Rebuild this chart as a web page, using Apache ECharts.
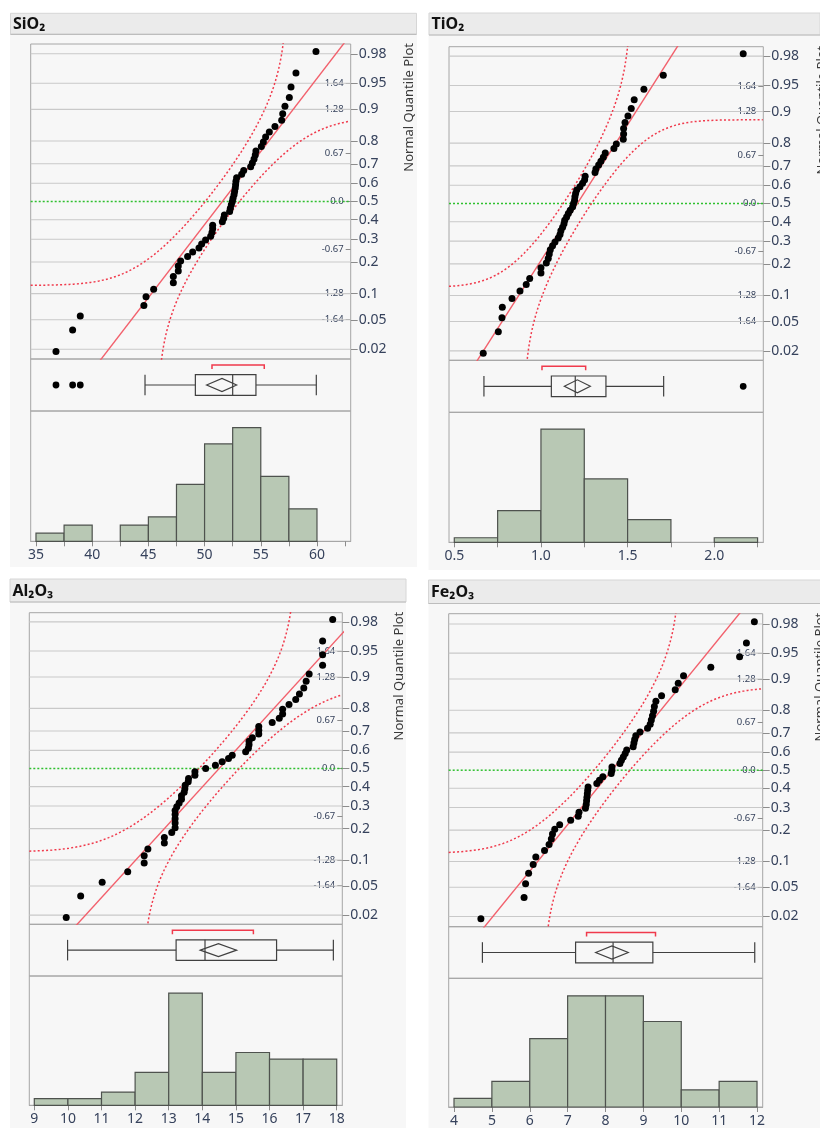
<!DOCTYPE html>
<html><head><meta charset="utf-8">
<script src="https://cdn.jsdelivr.net/npm/echarts@6/dist/echarts.min.js"></script>
<style>html,body{margin:0;padding:0;background:#fff;}#c{width:820px;height:1128px;}</style>
</head><body><div id="c"></div>
<script>
// ---------------- data ----------------
const probTicks = [0.02,0.05,0.1,0.2,0.3,0.4,0.5,0.6,0.7,0.8,0.9,0.95,0.98];
const probTickLabels = ['0.02','0.05','0.1','0.2','0.3','0.4','0.5','0.6','0.7','0.8','0.9','0.95','0.98'];
const zTicks = [-1.64,-1.28,-0.67,0,0.67,1.28,1.64];
const zTickLabels = ['-1.64','-1.28','-0.67','0.0','0.67','1.28','1.64'];
const bandD = 0.1217;

const sio2Values = [36.78,38.26,38.94,44.60,44.79,45.47,47.22,47.22,47.66,47.66,47.87,48.49,48.94,49.50,49.74,50.09,50.54,50.66,50.72,50.72,51.58,51.70,51.76,52.23,52.29,52.38,52.47,52.53,52.62,52.67,52.73,52.76,52.79,52.85,53.30,53.48,54.10,54.25,54.40,54.51,54.57,55.05,55.23,55.43,55.76,56.26,56.86,56.95,57.15,57.54,57.69,58.13,59.91];
const sio2Hist = {start: 35, width: 2.5, counts: [1,2,0,2,3,7,12,14,8,4]};
const sio2Box = [44.70, 49.18, 52.50, 54.57, 59.94];
const sio2Outliers = [36.78, 38.26, 38.94];
const sio2MeanDiamond = [50.18, 51.55, 52.85];
const sio2ShortestHalf = [50.66, 55.31];
const sio2Fit = [51.58, 4.92];
const sio2AxisLabels = [35,40,45,50,55,60];
const sio2AxisTicks = [35,37.5,40,42.5,45,47.5,50,52.5,55,57.5,60,62.5];

const tio2Values = [0.667,0.754,0.775,0.777,0.833,0.879,0.915,0.935,1.000,1.000,1.031,1.042,1.048,1.054,1.067,1.081,1.100,1.110,1.115,1.125,1.133,1.137,1.148,1.158,1.169,1.183,1.188,1.194,1.196,1.200,1.206,1.225,1.240,1.252,1.255,1.312,1.317,1.333,1.346,1.360,1.371,1.421,1.435,1.475,1.477,1.477,1.485,1.502,1.521,1.538,1.594,1.706,2.167];
const tio2Hist = {start: 0.5, width: 0.25, counts: [1,7,25,14,5,0,1]};
const tio2Box = [0.671, 1.060, 1.198, 1.375, 1.708];
const tio2Outliers = [2.167];
const tio2MeanDiamond = [1.135, 1.21, 1.285];
const tio2ShortestHalf = [1.006, 1.258];
const tio2Fit = [1.21, 0.264];
const tio2AxisLabels = [0.5,1.0,1.5,2.0];
const tio2AxisTicks = [0.5,0.75,1.0,1.25,1.5,1.75,2.0,2.25];

const al2o3Values = [9.95,10.38,11.02,11.78,12.27,12.27,12.38,12.87,12.87,13.09,13.19,13.19,13.19,13.19,13.19,13.24,13.31,13.38,13.38,13.46,13.48,13.49,13.58,13.59,13.78,13.78,14.10,14.39,14.59,14.78,14.89,15.29,15.37,15.39,15.39,15.49,15.68,15.68,15.68,16.08,16.29,16.39,16.39,16.58,16.78,16.89,17.02,17.09,17.18,17.58,17.58,17.58,17.88];
const al2o3Hist = {start: 9, width: 1, counts: [1,1,2,5,17,5,8,7,7]};
const al2o3Box = [9.99, 13.22, 14.08, 16.21, 17.90];
const al2o3Outliers = [];
const al2o3MeanDiamond = [13.94, 14.48, 15.02];
const al2o3ShortestHalf = [13.11, 15.52];
const al2o3Fit = [14.50, 1.936];
const al2o3AxisLabels = [9,10,11,12,13,14,15,16,17,18];
const al2o3AxisTicks = [9,10,11,12,13,14,15,16,17,18];

const fe2o3Values = [4.71,5.85,5.89,5.97,6.09,6.16,6.39,6.51,6.57,6.60,6.66,6.79,7.08,7.28,7.30,7.47,7.49,7.50,7.51,7.52,7.53,7.54,7.77,7.84,7.93,8.15,8.17,8.17,8.38,8.42,8.47,8.52,8.56,8.73,8.75,8.77,8.80,8.91,9.11,9.18,9.21,9.24,9.27,9.29,9.33,9.48,9.84,9.92,10.06,10.78,11.54,11.72,11.93];
const fe2o3Hist = {start: 4, width: 1, counts: [1,3,8,13,13,10,2,3]};
const fe2o3Box = [4.75, 7.21, 8.20, 9.25, 11.94];
const fe2o3Outliers = [];
const fe2o3MeanDiamond = [7.74, 8.17, 8.60];
const fe2o3ShortestHalf = [7.50, 9.32];
const fe2o3Fit = [8.17, 1.53];
const fe2o3AxisLabels = [4,5,6,7,8,9,10,11,12];
const fe2o3AxisTicks = [4,5,6,7,8,9,10,11,12];

// ---------------- layout ----------------
const panels = [
  {title:'SiO\u2082', values:sio2Values, hist:sio2Hist, box:sio2Box, out:sio2Outliers, dia:sio2MeanDiamond, half:sio2ShortestHalf, fit:sio2Fit,
   labels:sio2AxisLabels, ticks:sio2AxisTicks, fmt:v=>String(v),
   left:30.7, width:320, qTop:44, boxTop:359, histTop:411, histBottom:541.3, xMin:34.53, xMax:63.0, zMax:2.19, histMax:16.05,
   bg:[10,13,407,554], head:[10.5,13.3,406,21], nqpX:409.5},
  {title:'TiO\u2082', values:tio2Values, hist:tio2Hist, box:tio2Box, out:tio2Outliers, dia:tio2MeanDiamond, half:tio2ShortestHalf, fit:tio2Fit,
   labels:tio2AxisLabels, ticks:tio2AxisTicks, fmt:v=>v.toFixed(1),
   left:449, width:314.3, qTop:46.7, boxTop:360.3, histTop:412.3, histBottom:542.3, xMin:0.4694, xMax:2.283, zMax:2.185, histMax:28.7,
   bg:[428.5,13,392,557], head:[429,13,391,22], nqpX:822},
  {title:'Al\u2082O\u2083', values:al2o3Values, hist:al2o3Hist, box:al2o3Box, out:al2o3Outliers, dia:al2o3MeanDiamond, half:al2o3ShortestHalf, fit:al2o3Fit,
   labels:al2o3AxisLabels, ticks:al2o3AxisTicks, fmt:v=>String(v),
   left:29.3, width:313, qTop:612.7, boxTop:924.3, histTop:976, histBottom:1105.3, xMin:8.851, xMax:18.166, zMax:2.182, histMax:19.6,
   bg:[10,579,396,549], head:[10,579,396,23], nqpX:399},
  {title:'Fe\u2082O\u2083', values:fe2o3Values, hist:fe2o3Hist, box:fe2o3Box, out:fe2o3Outliers, dia:fe2o3MeanDiamond, half:fe2o3ShortestHalf, fit:fe2o3Fit,
   labels:fe2o3AxisLabels, ticks:fe2o3AxisTicks, fmt:v=>String(v),
   left:448.7, width:314, qTop:613.7, boxTop:926.7, histTop:978.3, histBottom:1108.3, xMin:3.86, xMax:12.15, zMax:2.198, histMax:15.05,
   bg:[428.5,580,392,548], head:[428.5,580,392,23.5], nqpX:820}
];

// ---------------- helpers ----------------
function normInv(p){
  const a=[-3.969683028665376e+01,2.209460984245205e+02,-2.759285104469687e+02,1.383577518672690e+02,-3.066479806614716e+01,2.506628277459239e+00];
  const b=[-5.447609879822406e+01,1.615858368580409e+02,-1.556989798598866e+02,6.680131188771972e+01,-1.328068155288572e+01];
  const c=[-7.784894002430293e-03,-3.223964580411365e-01,-2.400758277161838e+00,-2.549732539343734e+00,4.374664141464968e+00,2.938163982698783e+00];
  const d=[7.784695709041462e-03,3.224671290700398e-01,2.445134137142996e+00,3.754408661907416e+00];
  if(p<=0) return -Infinity; if(p>=1) return Infinity;
  const pl=0.02425; let q,r;
  if(p<pl){q=Math.sqrt(-2*Math.log(p));return (((((c[0]*q+c[1])*q+c[2])*q+c[3])*q+c[4])*q+c[5])/((((d[0]*q+d[1])*q+d[2])*q+d[3])*q+1);}
  if(p<=1-pl){q=p-0.5;r=q*q;return (((((a[0]*r+a[1])*r+a[2])*r+a[3])*r+a[4])*r+a[5])*q/(((((b[0]*r+b[1])*r+b[2])*r+b[3])*r+b[4])*r+1);}
  q=Math.sqrt(-2*Math.log(1-p));return -(((((c[0]*q+c[1])*q+c[2])*q+c[3])*q+c[4])*q+c[5])/((((d[0]*q+d[1])*q+d[2])*q+d[3])*q+1);
}
function normCdf(x){
  const t=1/(1+0.3275911*Math.abs(x)/Math.SQRT2);
  const y=1-(((((1.061405429*t-1.453152027)*t)+1.421413741)*t-0.284496736)*t+0.254829592)*t*Math.exp(-x*x/2);
  return x>=0?0.5*(1+y):0.5*(1-y);
}
function nearestLabel(v, vals, labels){
  let bi=0,bd=Infinity; vals.forEach((x,i)=>{const dd=Math.abs(x-v); if(dd<bd){bd=dd;bi=i;}}); return labels[bi];
}

const FONT = "'Noto Sans','DejaVu Sans',sans-serif";
const LABEL = '#36425c';
const FRAME = '#a6a6a6';
const probZ = probTicks.map(normInv);

const grids=[], xAxes=[], yAxes=[], series=[], graphics=[];

panels.forEach((P)=>{
  const gq = grids.length;
  const base = {left:P.left, width:P.width, show:true, borderColor:FRAME, borderWidth:1, backgroundColor:'transparent', containLabel:false};
  grids.push(Object.assign({top:P.qTop, height:P.boxTop-P.qTop}, base));
  grids.push(Object.assign({top:P.boxTop, height:P.histTop-P.boxTop}, base));
  grids.push(Object.assign({top:P.histTop, height:P.histBottom-P.histTop}, base));

  const xq = xAxes.length;
  xAxes.push({gridIndex:gq, type:'value', min:P.xMin, max:P.xMax, show:false});
  xAxes.push({gridIndex:gq+1, type:'value', min:P.xMin, max:P.xMax, show:false});
  xAxes.push({gridIndex:gq+2, type:'value', min:P.xMin, max:P.xMax, position:'bottom',
    axisLine:{show:true, onZero:false, lineStyle:{color:FRAME, width:1}},
    axisTick:{show:true, customValues:P.ticks, length:5, lineStyle:{color:'#8c8c8c'}},
    axisLabel:{show:true, customValues:P.labels, formatter:v=>P.fmt(v), color:LABEL, fontSize:14, fontFamily:FONT, margin:7},
    splitLine:{show:false}});

  const yq = yAxes.length;
  yAxes.push({gridIndex:gq, type:'value', position:'right', min:-P.zMax, max:P.zMax,
    axisLine:{show:false},
    axisTick:{show:true, inside:false, length:7, customValues:probZ, lineStyle:{color:'#8c8c8c'}},
    axisLabel:{show:true, customValues:probZ, formatter:v=>nearestLabel(v, probZ, probTickLabels), color:LABEL, fontSize:14, fontFamily:FONT, margin:8},
    splitLine:{show:false}});
  yAxes.push({gridIndex:gq, type:'value', position:'right', min:-P.zMax, max:P.zMax,
    axisLine:{show:false},
    axisTick:{show:true, inside:true, length:5, customValues:zTicks, lineStyle:{color:'#8c8c8c'}},
    axisLabel:{show:true, inside:true, customValues:zTicks, formatter:v=>nearestLabel(v, zTicks, zTickLabels), color:LABEL, fontSize:9.5, fontFamily:FONT, margin:7},
    splitLine:{show:false}});
  const yb = yAxes.length;
  yAxes.push({gridIndex:gq+1, type:'value', min:0, max:1, show:false});
  const yh = yAxes.length;
  yAxes.push({gridIndex:gq+2, type:'value', min:0, max:P.histMax, show:false});

  // gridlines + green reference line at 0.5
  series.push({type:'custom', xAxisIndex:xq, yAxisIndex:yq, silent:true, z:1,
    data: probZ.map(z=>[P.xMin, z]),
    renderItem:(params, api)=>{
      const z = api.value(1);
      const a = api.coord([P.xMin, z]), b = api.coord([P.xMax, z]);
      const green = Math.abs(z) < 1e-9;
      return {type:'line', shape:{x1:a[0], y1:a[1], x2:b[0], y2:b[1]},
        style: green ? {stroke:'#2fc02f', lineWidth:1.5, lineDash:[2,2]} : {stroke:'#c9c9c9', lineWidth:1.1}};
    }});

  // confidence bands (Lilliefors), from fitted mean / sd
  const [mu, sd] = P.fit;
  const N = 600, up = [], lo = [];
  for(let i=0;i<=N;i++){
    const x = P.xMin + (P.xMax-P.xMin)*i/N;
    const F = normCdf((x-mu)/sd);
    up.push([x, F+bandD>=1 ? 6 : normInv(F+bandD)]);
    lo.push([x, F-bandD<=0 ? -6 : normInv(F-bandD)]);
  }
  const bandStyle = {color:'#f03a4c', width:1.5, type:[2,2.2]};
  series.push({type:'line', xAxisIndex:xq, yAxisIndex:yq, data:up, showSymbol:false, symbol:'none', silent:true, clip:true, z:3, lineStyle:bandStyle});
  series.push({type:'line', xAxisIndex:xq, yAxisIndex:yq, data:lo, showSymbol:false, symbol:'none', silent:true, clip:true, z:3, lineStyle:bandStyle});
  // fitted normal line
  series.push({type:'line', xAxisIndex:xq, yAxisIndex:yq, data:[[mu-sd*3, -3],[mu+sd*3, 3]], showSymbol:false, symbol:'none', silent:true, clip:true, z:3,
    lineStyle:{color:'#f2606c', width:1.4}});
  // quantile points
  const n = P.values.length;
  series.push({type:'scatter', xAxisIndex:xq, yAxisIndex:yq, symbol:'circle', symbolSize:7, silent:true, z:5,
    itemStyle:{color:'#000000', opacity:1},
    data: P.values.map((v,i)=>[v, normInv((i+1)/(n+1))])});

  // box plot
  series.push({type:'custom', xAxisIndex:xq+1, yAxisIndex:yb, silent:true, z:4,
    data:[[P.box[2], 0.5]],
    renderItem:(params, api)=>{
      const c = api.coord([P.box[2], 0.5])[1];
      const X = v => api.coord([v, 0.5])[0];
      const hb = 10.3, hd = 6.5;
      const st = {stroke:'#404040', lineWidth:1.2, fill:null};
      const L = (x1,y1,x2,y2,s)=>({type:'line', shape:{x1,y1,x2,y2}, style:s||st});
      const [w0,q1,md,q3,w1] = P.box;
      const ch = [
        L(X(w0),c,X(q1),c), L(X(q3),c,X(w1),c),
        L(X(w0),c-hb,X(w0),c+hb), L(X(w1),c-hb,X(w1),c+hb),
        {type:'rect', shape:{x:X(q1), y:c-hb, width:X(q3)-X(q1), height:2*hb}, style:{stroke:'#404040', lineWidth:1.2, fill:'rgba(0,0,0,0)'}},
        L(X(md),c-hb,X(md),c+hb),
        {type:'polygon', shape:{points:[[X(P.dia[0]),c],[X(P.dia[1]),c-hd],[X(P.dia[2]),c],[X(P.dia[1]),c+hd]]}, style:{stroke:'#404040', lineWidth:1.2, fill:'rgba(0,0,0,0)'}},
        {type:'polyline', shape:{points:[[X(P.half[0]),c-16],[X(P.half[0]),c-20],[X(P.half[1]),c-20],[X(P.half[1]),c-16]]}, style:{stroke:'#f03a4c', lineWidth:1.5, fill:null}}
      ];
      P.out.forEach(o=>ch.push({type:'circle', shape:{cx:X(o), cy:c, r:3.4}, style:{fill:'#000000'}}));
      return {type:'group', children:ch};
    }});

  // histogram
  const bins = P.hist.counts.map((cnt,i)=>[P.hist.start+i*P.hist.width, P.hist.start+(i+1)*P.hist.width, cnt]).filter(b=>b[2]>0);
  series.push({type:'custom', xAxisIndex:xq+2, yAxisIndex:yh, silent:true, z:4,
    encode:{x:[0,1], y:2}, data:bins,
    renderItem:(params, api)=>{
      const a = api.coord([api.value(0), api.value(2)]);
      const b = api.coord([api.value(1), 0]);
      return {type:'rect', shape:{x:a[0], y:a[1], width:b[0]-a[0], height:b[1]-a[1]},
        style:{fill:'#b8c8b4', stroke:'#4e524e', lineWidth:1.2}};
    }});

  // decorations
  graphics.push({type:'rect', z:-20, silent:true, shape:{x:P.bg[0], y:P.bg[1], width:P.bg[2], height:P.bg[3]}, style:{fill:'#f7f7f7'}});
  graphics.push({type:'rect', z:-15, silent:true, shape:{x:P.head[0], y:P.head[1], width:P.head[2], height:P.head[3]}, style:{fill:'#ebebeb', stroke:'#d6d6d6', lineWidth:1}});
  graphics.push({type:'line', z:-14, silent:true, shape:{x1:P.head[0], y1:P.head[1]+P.head[3], x2:P.head[0]+P.head[2], y2:P.head[1]+P.head[3]}, style:{stroke:'#bdbdbd', lineWidth:1.2}});
  graphics.push({type:'text', z:10, silent:true, x:P.head[0]+2.5, y:P.head[1]+P.head[3]/2+0.5,
    style:{text:P.title, fontSize:16, fontWeight:'bold', fontFamily:FONT, fill:'#111', verticalAlign:'middle', align:'left'}});
  graphics.push({type:'text', z:10, silent:true, x:P.nqpX, y:P.qTop-1, rotation:Math.PI/2,
    style:{text:'Normal Quantile Plot', fontSize:13, fontFamily:FONT, fill:'#3a3a3a', verticalAlign:'middle', align:'right'}});
});

const chart = echarts.init(document.getElementById('c'), null, {renderer:'canvas'});
chart.setOption({
  animation:false,
  backgroundColor:'#ffffff',
  textStyle:{fontFamily:FONT},
  grid:grids, xAxis:xAxes, yAxis:yAxes, series:series,
  graphic:{elements:graphics}
});
</script></body></html>
